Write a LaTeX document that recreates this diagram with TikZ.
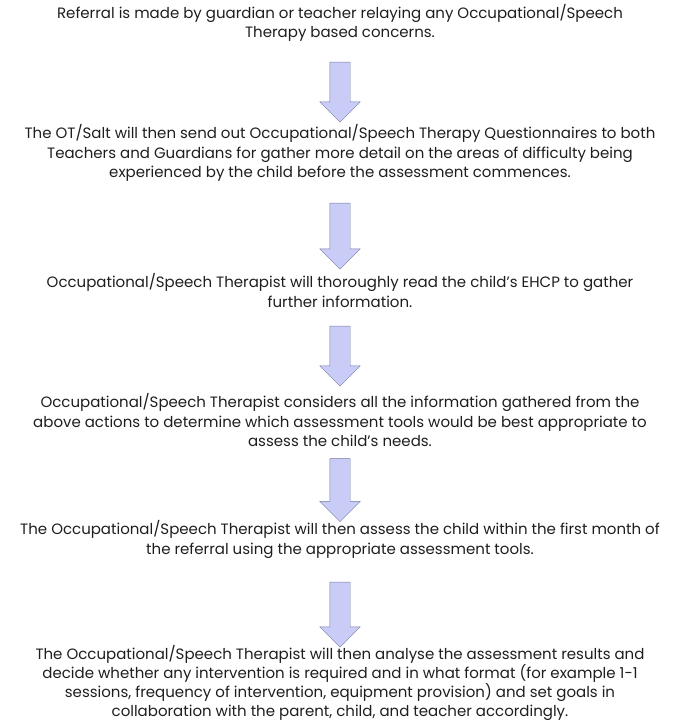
\documentclass[tikz,border=0pt]{standalone}
\usepackage{fontspec}
\setmainfont{Poppins}
\usepackage{xcolor}
\usepackage{tikz}
\usetikzlibrary{shapes.arrows}
\definecolor{arrowfill}{RGB}{200,204,247}
\definecolor{arrowline}{RGB}{120,124,160}
\definecolor{steptext}{RGB}{30,30,30}
\tikzset{
    tnode/.style = {align=center, inner sep=0pt, text centered},
    step_node/.style = {tnode, steptext, font=\fontsize{15}{19.2}\selectfont},
    down_arrow/.style = {single arrow, shape border rotate=270, draw=arrowline, fill=arrowfill, thin,
        inner sep=10pt, minimum width=40pt, single arrow head extend=10pt, single arrow tip angle=90}
}

\begin{document}
\begin{tikzpicture}[x=1pt, y=-1pt]
    \useasboundingbox (0,0) rectangle (679,722);

    \node [step_node] (s1) at (340,23) {Referral is made by guardian or teacher relaying any Occupational/Speech\\
        Therapy based concerns.};
    \node [step_node] (s2) at (340,153) {The OT/Salt will then send out Occupational/Speech Therapy Questionnaires to both\\
        Teachers and Guardians for gather more detail on the areas of difficulty being\\
        experienced by the child before the assessment commences.};
    \node [step_node] (s3) at (340,290.5) {Occupational/Speech Therapist will thoroughly read the child’s EHCP to gather\\
        further information.};
    \node [step_node] (s4) at (340,420) {Occupational/Speech Therapist considers all the information gathered from the\\
        above actions to determine which assessment tools would be best appropriate to\\
        assess the child’s needs.};
    \node [step_node] (s5) at (340,539.5) {The Occupational/Speech Therapist will then assess the child within the first month of\\
        the referral using the appropriate assessment tools.};
    \node [step_node] (s6) at (340,683) {The Occupational/Speech Therapist will then analyse the assessment results and\\
        decide whether any intervention is required and in what format (for example 1-1\\
        sessions, frequency of intervention, equipment provision) and set goals in\\
        collaboration with the parent, child, and teacher accordingly.};

    % block arrows between the steps
    \node [down_arrow, minimum height=60pt] (a1) at (340,87) {};
    \node [down_arrow, minimum height=66pt] (a2) at (340,231) {};
    \node [down_arrow, minimum height=60pt] (a3) at (340,351) {};
    \node [down_arrow, minimum height=63pt] (a4) at (340,485) {};
    \node [down_arrow, minimum height=65pt] (a5) at (340,609.5) {};
\end{tikzpicture}
\end{document}
